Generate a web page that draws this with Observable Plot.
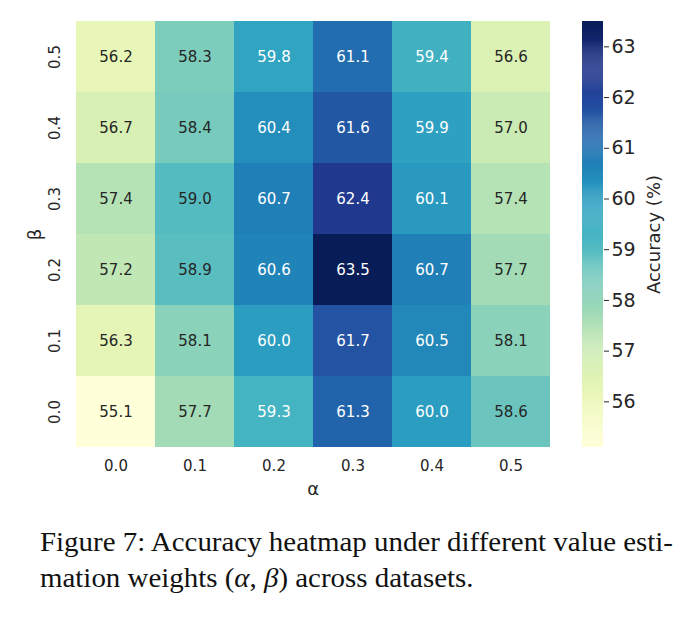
<!DOCTYPE html>
<html><head><meta charset="utf-8">
<script src="https://cdn.jsdelivr.net/npm/d3@7"></script>
<script src="https://cdn.jsdelivr.net/npm/@observablehq/plot@0.6"></script>
<style>
body{margin:0;background:#fff;}
#wrap{position:relative;width:691px;height:619px;overflow:hidden;}
#heat,#cbar{position:absolute;top:0;}
#heat{left:0;}
#cbar{left:582px;}
#cap{position:absolute;left:40px;top:524px;font-family:"Liberation Serif",serif;font-size:28px;line-height:36px;color:#111;}
#cap span{display:inline-block;white-space:nowrap;transform-origin:0 50%;}
</style></head>
<body>
<div id="wrap"><div id="heat"></div><div id="cbar"></div>
<div id="cap"><span id="l1">Figure 7: Accuracy heatmap under different value esti-</span><br><span id="l2">mation weights (<i>α</i>, <i>β</i>) across datasets.</span></div>
</div>
<script>
const alphas = ["0.0","0.1","0.2","0.3","0.4","0.5"];
const betas = ["0.5","0.4","0.3","0.2","0.1","0.0"];
const row05 = [56.2, 58.3, 59.8, 61.1, 59.4, 56.6];
const row04 = [56.7, 58.4, 60.4, 61.6, 59.9, 57.0];
const row03 = [57.4, 59.0, 60.7, 62.4, 60.1, 57.4];
const row02 = [57.2, 58.9, 60.6, 63.5, 60.7, 57.7];
const row01 = [56.3, 58.1, 60.0, 61.7, 60.5, 58.1];
const row00 = [55.1, 57.7, 59.3, 61.3, 60.0, 58.6];
const colorTicks = [56, 57, 58, 59, 60, 61, 62, 63];
const colorDomain = [55.1, 63.5];
const xLabel = "α", yLabel = "β", colorLabel = "Accuracy (%)";

const rows = [row05, row04, row03, row02, row01, row00];
const data = [];
betas.forEach((b, i) => alphas.forEach((a, j) => data.push({alpha: a, beta: b, v: rows[i][j]})));

const font = "DejaVu Sans, sans-serif";
const ink = "#262626";
const colorOpts = {type: "linear", scheme: "YlGnBu", domain: colorDomain};

const heat = Plot.plot({
  width: 691, height: 510,
  marginLeft: 73.5, marginRight: 139, marginTop: 21, marginBottom: 63,
  style: {fontFamily: font, background: "#fff", color: ink},
  x: {domain: alphas, padding: 0, axis: null},
  y: {domain: betas, padding: 0, axis: null},
  color: colorOpts,
  marks: [
    Plot.cell(data, {x: "alpha", y: "beta", fill: "v", inset: 0}),
    Plot.text(data, {x: "alpha", y: "beta", text: d => d.v.toFixed(1), fontSize: 15,
      fill: d => d.v > 59.2 ? "#ffffff" : ink}),
    Plot.text(alphas, {x: d => d, text: d => d, frameAnchor: "bottom", lineAnchor: "middle", textAnchor: "middle", dy: 19, fontSize: 15, fill: ink}),
    Plot.text(betas, {y: d => d, text: d => d, frameAnchor: "left", lineAnchor: "middle", textAnchor: "middle", dx: -19, rotate: -90, fontSize: 15, fill: ink}),
    Plot.text([xLabel], {text: d => d, frameAnchor: "bottom", lineAnchor: "middle", textAnchor: "middle", dy: 42, fontSize: 18, fill: ink}),
    Plot.text([yLabel], {text: d => d, frameAnchor: "left", lineAnchor: "middle", textAnchor: "middle", dx: -39, rotate: -90, fontSize: 18, fill: ink})
  ]
});
document.getElementById("heat").appendChild(heat);

const strips = d3.range(colorDomain[0], colorDomain[1], 0.02).map(v => ({y1: v, y2: Math.min(v + 0.025, colorDomain[1])}));
const cbar = Plot.plot({
  width: 109, height: 510,
  marginLeft: 0, marginRight: 88, marginTop: 21, marginBottom: 63,
  style: {fontFamily: font, background: "transparent", color: ink},
  x: {domain: [0, 1], axis: null},
  y: {domain: colorDomain, axis: null},
  color: colorOpts,
  marks: [
    Plot.rectY(strips, {x1: 0, x2: 1, y1: "y1", y2: "y2", fill: d => (d.y1 + d.y2) / 2}),
    Plot.axisY({anchor: "right", ticks: colorTicks, tickSize: 5, tickFormat: () => "", label: null, stroke: ink}),
    Plot.text(colorTicks, {y: d => d, text: d => String(d), frameAnchor: "right", lineAnchor: "middle", dx: 8, textAnchor: "start", fontSize: 19, fill: ink}),
    Plot.text([colorLabel], {text: d => d, frameAnchor: "right", lineAnchor: "middle", textAnchor: "middle", dx: 51, rotate: -90, fontSize: 18, fill: ink})
  ]
});
document.getElementById("cbar").appendChild(cbar);

const l1 = document.getElementById("l1"), l2 = document.getElementById("l2");
const k = 633 / l1.getBoundingClientRect().width;
l1.style.transform = `scaleX(${k})`;
l2.style.transform = `scaleX(${k})`;
</script>
</body></html>
